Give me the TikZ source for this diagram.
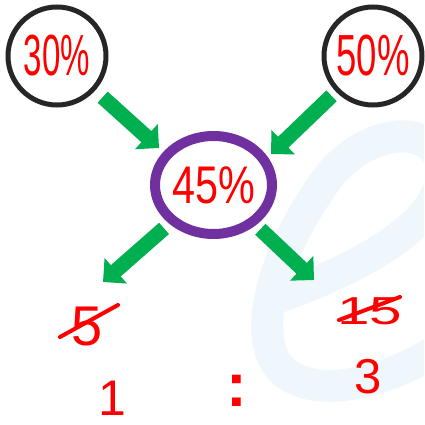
\documentclass[tikz,border=0pt]{standalone}
\usepackage{graphicx}
\usepackage{fontspec}
\setmainfont{Liberation Sans}
\usetikzlibrary{arrows.meta,shapes.geometric}

\definecolor{inkred}{HTML}{FF0000}
\definecolor{ringblack}{HTML}{262626}
\definecolor{ringpurple}{HTML}{7030A0}
\definecolor{arrowgreen}{HTML}{00B050}
\definecolor{markblue}{HTML}{EFF6FC}

\begin{document}
\begin{tikzpicture}[x=1pt,y=-1pt,
  ring/.style={circle,draw=ringblack,line width=5pt,minimum size=98pt,
    inner sep=0pt,text=inkred},
  mixring/.style={ellipse,draw=ringpurple,line width=10pt,minimum width=107pt,
    minimum height=98pt,inner sep=0pt,text=inkred},
  fatarrow/.style={draw=arrowgreen,line width=15pt,
    -{Triangle[length=17pt,width=33pt]}},
  numtext/.style={text=inkred,inner sep=0pt},
  strike/.style={draw=inkred,line width=4pt,line cap=round}]

  \useasboundingbox (0,0) rectangle (424,425);

  %--- faint e mark in the back ---
  \begin{scope}
    \clip (0,0) rectangle (424,425);
    \draw[markblue,line width=32pt,line cap=round]
      (276,298) .. controls (370,265) and (455,215) .. (440,160)
      .. controls (428,125) and (370,128) .. (330,175)
      .. controls (285,235) and (255,310) .. (272,355)
      .. controls (290,400) and (370,395) .. (445,345);
  \end{scope}

  %--- mixed solutions ---
  \node[ring,font=\fontsize{58}{60}\selectfont] (c30) at (57,56)
    {\scalebox{0.57}[1]{30\%}};
  \node[ring,font=\fontsize{58}{60}\selectfont] (c50) at (373,56)
    {\scalebox{0.63}[1]{50\%}};
  \node[mixring,font=\fontsize{53}{56}\selectfont] (c45) at (213.5,185)
    {\scalebox{0.78}[1]{45\%}};

  %--- arrow ends ---
  \coordinate (tipA) at (159,148);
  \coordinate (tipB) at (271,154);
  \coordinate (tipC) at (103,282);
  \coordinate (tipD) at (314,280);

  \draw[fatarrow,shorten <=10pt] (c30) -- (tipA);
  \draw[fatarrow,shorten <=6pt] (c50) -- (tipB);
  \draw[fatarrow,shorten <=7pt] (c45) -- (tipC);
  \draw[fatarrow,shorten <=6pt] (c45) -- (tipD);

  %--- differences ---
  \node[numtext,font=\fontsize{56}{60}\selectfont] (five) at (87,327) {5};
  \node[numtext,font=\fontsize{39}{42}\selectfont] (fifteen) at (370,311)
    {\scalebox{1.5}[1]{15}};
  \draw[strike] (five.center) ++(-27,10) -- ++(58,-32);
  \draw[strike] (fifteen.center) ++(-31,9) -- ++(61,-23);

  %--- ratio ---
  \node[numtext,font=\fontsize{50}{54}\selectfont] (one) at (112,398) {1};
  \node[numtext,font=\bfseries\fontsize{62}{64}\selectfont] (ratio) at (237,391) {:};
  \node[numtext,font=\fontsize{49}{52}\selectfont] (three) at (368,377) {3};

\end{tikzpicture}
\end{document}
